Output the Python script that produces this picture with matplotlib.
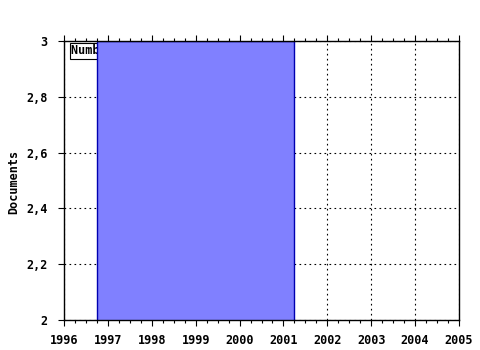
import matplotlib
matplotlib.use("Agg")
import matplotlib.pyplot as plt
from matplotlib.ticker import FuncFormatter, MultipleLocator

years = [1999]
documents = [3]
bar_width = 4.5
series_label = "Number of documents"
x_ticks = list(range(1996, 2006))
y_ticks = [2.0, 2.2, 2.4, 2.6, 2.8, 3.0]

plt.rcParams['font.family'] = ['DejaVu Sans Mono']
plt.rcParams['font.weight'] = 'bold'

fig = plt.figure(figsize=(4.8, 3.5), dpi=100)
ax = fig.add_axes([64/480, 1-320/350, (459-64)/480, (320-41)/350])

ax.bar(years, documents, width=bar_width, color='#8080ff', edgecolor='#0000b0',
       linewidth=1, zorder=3)

ax.set_xlim(1996, 2005)
ax.set_ylim(2, 3)
ax.set_xticks(x_ticks)
ax.set_yticks(y_ticks)
ax.xaxis.set_minor_locator(MultipleLocator(0.25))
ax.yaxis.set_major_formatter(FuncFormatter(
    lambda v, p: (f"{v:.1f}".rstrip('0').rstrip('.')).replace('.', ',')))

ax.grid(True, which='major', color='black', linestyle=(0, (1.5, 3)), linewidth=0.8, zorder=1)
ax.tick_params(axis='both', which='major', labelsize=8.5, length=4, width=0.8, direction='out',
               colors='black')
ax.tick_params(axis='x', which='major', top=True, pad=6)
ax.tick_params(axis='x', which='minor', length=2, width=0.8, direction='out', top=True)
ax.tick_params(axis='y', which='major', pad=8)
for lab in ax.get_xticklabels() + ax.get_yticklabels():
    lab.set_fontweight('bold')
for s in ax.spines.values():
    s.set_linewidth(1)
    s.set_zorder(5)

ax.set_ylabel("Documents", fontsize=8.5, fontweight='bold')
ax.yaxis.set_label_coords((20 - 64) / 395, (320 - 182) / 279)

ax.text(0.017, 0.988, series_label, transform=ax.transAxes, fontsize=8.5,
        fontweight='bold', va='top', ha='left', zorder=2,
        bbox=dict(boxstyle='square,pad=0.1', facecolor='white', edgecolor='black', linewidth=0.8))

fig.savefig("out.png", dpi=100)
